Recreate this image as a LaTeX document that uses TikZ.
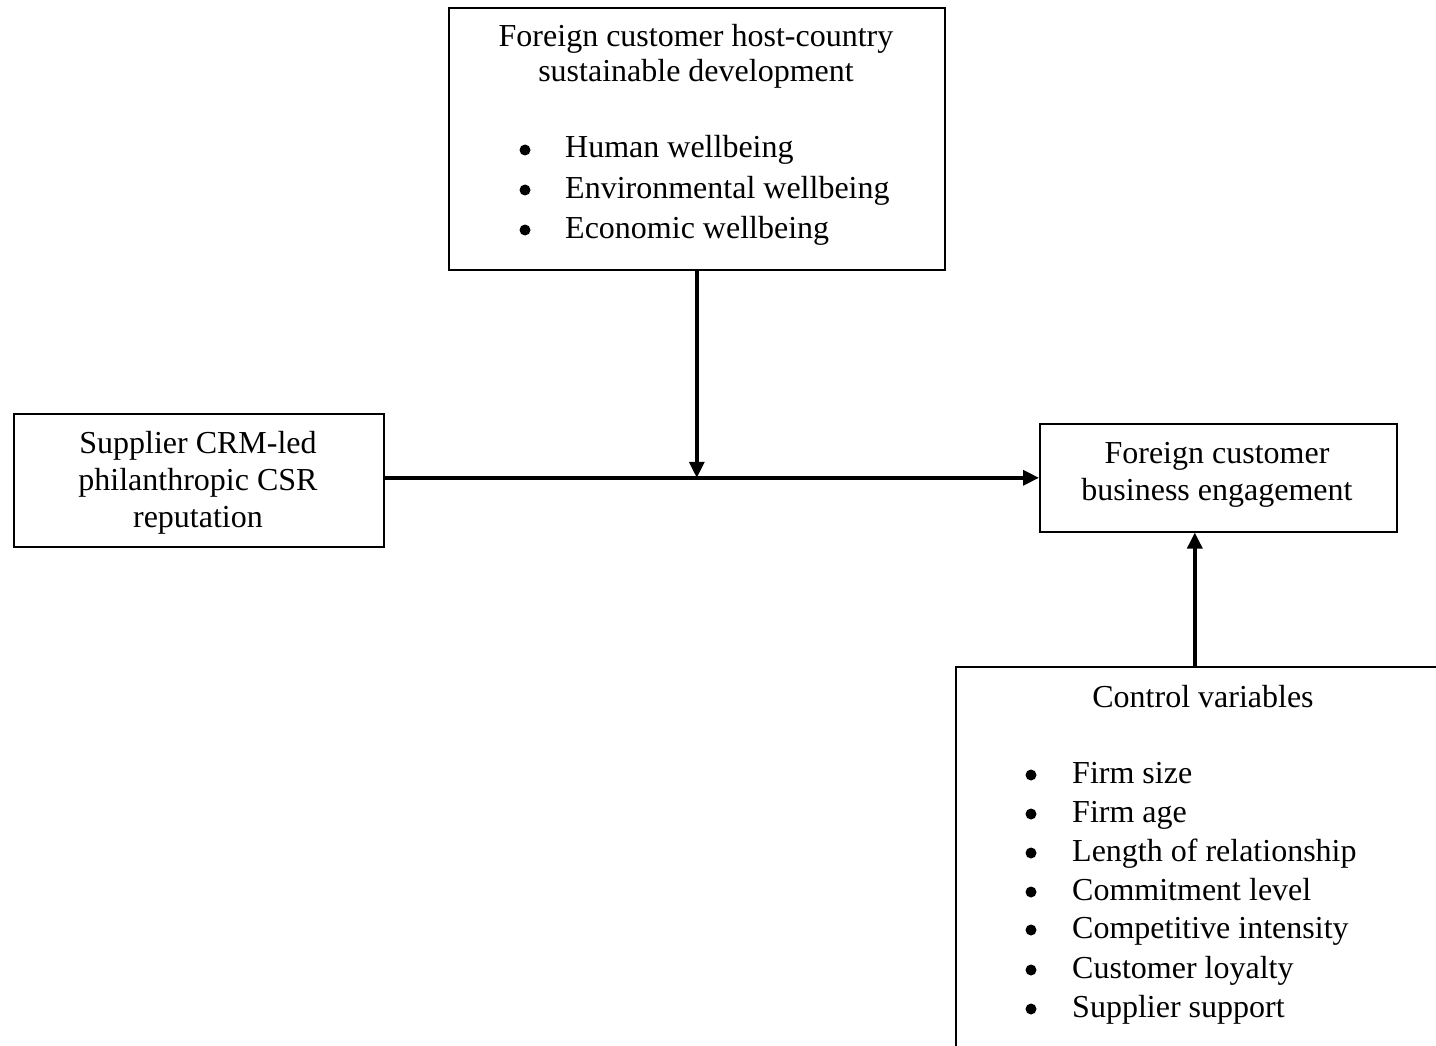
\documentclass[tikz,border=0pt]{standalone}
\usepackage{fontspec}
\setmainfont{Liberation Serif}
\usetikzlibrary{arrows.meta}
\begin{document}
\begin{tikzpicture}[x=1pt,y=-1pt,
  box/.style={draw,line width=1.6pt,inner sep=0pt,anchor=north west},
  txt/.style={font=\fontsize{32}{38}\selectfont,inner sep=0pt,anchor=base},
  itm/.style={font=\fontsize{32}{38}\selectfont,inner sep=0pt,anchor=base west},
  dot/.style={circle,fill,inner sep=0pt,minimum size=11pt},
  arr/.style={line width=3.5pt,-{Triangle[length=16pt,width=15pt]}}]
\useasboundingbox (0,0) rectangle (1436,1046);
\begin{scope}
\clip (0,0) rectangle (1436,1046);
% boxes
\node[box,minimum width=496pt,minimum height=262pt] (tb) at (448,7) {};
\node[box,minimum width=370pt,minimum height=133pt] (lb) at (13,413) {};
\node[box,minimum width=357pt,minimum height=108pt] (rb) at (1039,423) {};
\node[box,minimum width=520pt,minimum height=420pt] (cb) at (955,666) {};
\end{scope}
% top box text
\node[txt] (t1) at (696,47) {Foreign customer host-country};
\node[txt] (t2) at (696,82) {sustainable development};
\foreach \y/\t/\n in {158/Human wellbeing/a,198/Environmental wellbeing/b,238/Economic wellbeing/c}{
  \node[dot] (td\n) at (525,\y-8) {};
  \node[itm] (ti\n) at (565,\y) {\t};
}
% left box text
\node[txt] (l1) at (198,453) {Supplier CRM-led};
\node[txt] (l2) at (198,490) {philanthropic CSR};
\node[txt] (l3) at (198,527) {reputation};
% right box text
\node[txt] (r1) at (1217,463) {Foreign customer};
\node[txt] (r2) at (1217,500) {business engagement};
% control box text
\node[txt] (c0) at (1203,707) {Control variables};
\foreach \y/\t/\n in {783/Firm size/a,822/Firm age/b,861/Length of relationship/c,900/Commitment level/d,938/Competitive intensity/e,978/Customer loyalty/f,1017/Supplier support/g}{
  \node[dot] (cd\n) at (1031,\y-8) {};
  \node[itm] (ci\n) at (1072,\y) {\t};
}
% connectors
\coordinate (j) at (tb.south |- rb.west);
\draw[arr] (lb.east |- rb.west) -- (rb.west);
\draw[arr] (tb.south) -- (j);
\coordinate (cs) at ([xshift=-23.5pt]rb.south |- cb.north);
\draw[arr] (cs) -- ([xshift=-23.5pt]rb.south);
\end{tikzpicture}
\end{document}
